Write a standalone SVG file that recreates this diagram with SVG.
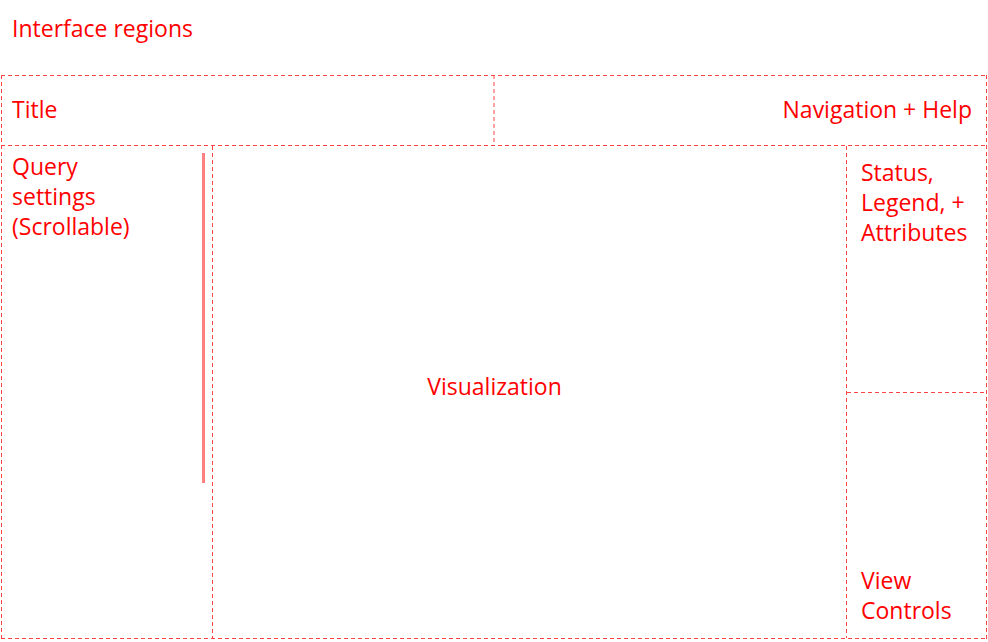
<svg xmlns="http://www.w3.org/2000/svg" width="988" height="642" viewBox="0 0 988 642">
<style>
text{font-family:"Open Sans","Noto Sans",sans-serif;font-size:23px;fill:#ff0000}
.d{fill:none;stroke:#ff4444;stroke-width:1;stroke-dasharray:4 3}
</style>
<rect width="988" height="642" fill="#ffffff"/>
<g id="borders">
<line class="d" x1="1" y1="75.5" x2="987" y2="75.5"/>
<line class="d" x1="1" y1="145.5" x2="987" y2="145.5"/>
<line class="d" x1="1" y1="638.5" x2="987" y2="638.5"/>
<line class="d" x1="1.5" y1="75" x2="1.5" y2="639"/>
<line class="d" x1="986.5" y1="75" x2="986.5" y2="639"/>
<line class="d" x1="494" y1="75" x2="494" y2="145" stroke-width="1.5" stroke="#ff7777"/>
<line class="d" x1="212.5" y1="146" x2="212.5" y2="638"/>
<line class="d" x1="846.5" y1="146" x2="846.5" y2="638"/>
<line class="d" x1="847" y1="392.5" x2="986" y2="392.5"/>
</g>
<g id="heading"><text x="12" y="37">Interface regions</text></g>
<g id="title"><text x="12" y="118">Title</text></g>
<g id="nav"><text x="972" y="118" text-anchor="end">Navigation + Help</text></g>
<g id="query"><text x="12" y="175">Query</text><text x="12" y="205">settings</text><text x="12" y="235">(Scrollable)</text><line x1="203.5" y1="153" x2="203.5" y2="483" stroke="#ff8080" stroke-width="3"/></g>
<g id="visualization"><text x="494.5" y="395" text-anchor="middle">Visualization</text></g>
<g id="status"><text x="861" y="181">Status,</text><text x="861" y="211">Legend, +</text><text x="861" y="241">Attributes</text></g>
<g id="controls"><text x="861" y="589">View</text><text x="861" y="619">Controls</text></g>
</svg>
